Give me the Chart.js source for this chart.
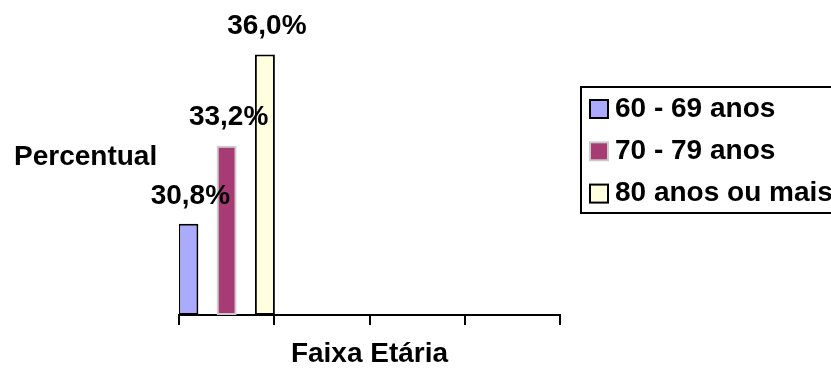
<!DOCTYPE html>
<html lang="pt">
<head>
<meta charset="utf-8">
<title>Faixa Etária</title>
<script src="https://cdn.jsdelivr.net/npm/chart.js@4/dist/chart.umd.min.js"></script>
<style>
  html, body { margin: 0; padding: 0; background: #ffffff; overflow: hidden; }
  #wrap { width: 831px; height: 368px; }
</style>
</head>
<body>
<div id="wrap"><canvas id="chart" width="831" height="368"></canvas></div>
<script>
// Age groups, one dataset each
const seriesNames = ['60 - 69 anos', '70 - 79 anos', '80 anos ou mais'];
// Percent share of each group (all in the first slot of the axis)
const seriesValues = [30.8, 33.2, 36.0];
// Category slots along the x axis (unlabelled)
const categories = ['', '', '', ''];
// Value axis range
const yMin = 28;
const yMax = 37;

const fillColors = ['#AAAAFF', '#A63C73', '#FFFFDF'];
const edgeColors = ['#000000', '#CCCCCC', '#000000'];
const FONT = '"Liberation Sans", Arial, sans-serif';
const fmt = v => v.toFixed(1).replace('.', ',') + '%';

const datasets = seriesNames.map((name, i) => ({
  label: name,
  data: categories.map((c, k) => (k === 0 ? seriesValues[i] : null)),
  base: yMin,
  backgroundColor: fillColors[i],
  borderColor: edgeColors[i],
  borderWidth: 2,
  borderSkipped: false,
  categoryPercentage: 1.205,
  barPercentage: 0.523
}));

// Value labels above each bar
const valueLabels = {
  id: 'valueLabels',
  afterDatasetsDraw(chart) {
    const ctx = chart.ctx;
    ctx.save();
    ctx.font = 'bold 28px ' + FONT;
    ctx.fillStyle = '#000000';
    ctx.textAlign = 'center';
    ctx.textBaseline = 'middle';
    chart.data.datasets.forEach((ds, i) => {
      const el = chart.getDatasetMeta(i).data[0];
      ctx.fillText(fmt(ds.data[0]), el.x + 2, el.y - 28);
    });
    ctx.restore();
  }
};

// Horizontal axis caption on the left and a boxed legend on the right
const sideText = {
  id: 'sideText',
  afterDraw(chart) {
    const ctx = chart.ctx;
    ctx.save();
    ctx.font = 'bold 28px ' + FONT;
    ctx.fillStyle = '#000000';
    ctx.textAlign = 'left';
    ctx.textBaseline = 'middle';
    ctx.fillText('Percentual', 14, 157);

    // legend frame (runs past the right edge)
    ctx.lineWidth = 2;
    ctx.strokeStyle = '#000000';
    ctx.strokeRect(581, 87, 320, 126);

    chart.data.datasets.forEach((ds, i) => {
      const cy = 109 + i * 42.3;
      ctx.fillStyle = ds.backgroundColor;
      ctx.fillRect(590, cy - 9, 18, 18);
      ctx.strokeStyle = ds.borderColor;
      ctx.lineWidth = 2;
      ctx.strokeRect(590, cy - 9, 18, 18);
      ctx.fillStyle = '#000000';
      ctx.fillText(ds.label, 615, cy);
    });
    ctx.restore();
  }
};

new Chart(document.getElementById('chart'), {
  type: 'bar',
  data: { labels: categories, datasets },
  options: {
    responsive: false,
    devicePixelRatio: 1,
    animation: false,
    layout: { padding: { left: 179, right: 271, top: 22, bottom: 0 } },
    plugins: {
      legend: { display: false },
      tooltip: { enabled: false },
      title: { display: false }
    },
    scales: {
      x: {
        type: 'category',
        offset: true,
        grid: {
          offset: true,
          drawOnChartArea: false,
          drawTicks: true,
          tickLength: 10,
          color: '#000000',
          lineWidth: 2
        },
        border: { display: true, color: '#000000', width: 2 },
        ticks: { display: false },
        title: {
          display: true,
          text: 'Faixa Etária',
          color: '#000000',
          font: { family: FONT, size: 28, weight: 'bold', lineHeight: 1 },
          padding: { top: 0, bottom: 0 }
        },
        afterFit(scale) { scale.height = 53; }
      },
      y: {
        display: false,
        min: yMin,
        max: yMax
      }
    }
  },
  plugins: [valueLabels, sideText]
});
</script>
</body>
</html>
